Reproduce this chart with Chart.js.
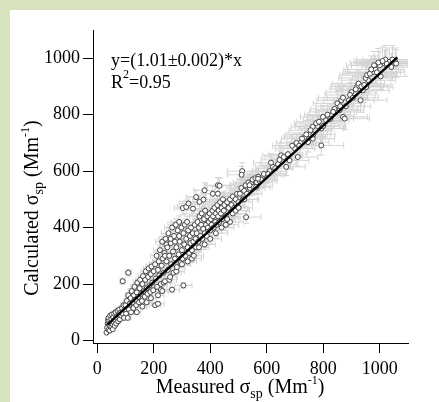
<!DOCTYPE html>
<html>
<head>
<meta charset="utf-8">
<script src="https://cdn.jsdelivr.net/npm/chart.js@4"></script>
<style>
    html, body { margin: 0; padding: 0; background: #d6e3bd; }
    #wrap { position: absolute; left: 10px; top: 10px; width: 429px; height: 392px; background: #fff; }
</style>
</head>
<body>
<div id="wrap"><canvas id="myChart" width="429" height="392"></canvas></div>
<script>
// measured vs calculated scattering coefficient (Mm-1)
const measured = [
    33, 35, 37, 38, 40, 40, 42, 43, 45, 46,
    48, 50, 50, 52, 54, 55, 57, 58, 60, 62,
    63, 65, 67, 68, 70, 72, 74, 76, 78, 80,
    82, 85, 88, 90, 93, 95, 98, 90, 100, 102,
    105, 108, 110, 110, 112, 115, 118, 120, 122, 125,
    128, 130, 132, 135, 138, 140, 140, 142, 145, 148,
    150, 152, 155, 158, 160, 160, 162, 165, 168, 170,
    172, 175, 175, 178, 180, 182, 185, 188, 190, 190,
    192, 195, 198, 200, 205, 215, 205, 208, 210, 212,
    215, 215, 218, 220, 222, 225, 225, 228, 230, 230,
    232, 235, 235, 238, 240, 240, 242, 245, 245, 248,
    250, 252, 255, 255, 258, 260, 260, 262, 265, 265,
    268, 270, 272, 275, 275, 278, 280, 280, 282, 285,
    288, 290, 290, 292, 295, 298, 300, 300, 302, 305,
    305, 308, 310, 312, 315, 318, 320, 320, 322, 325,
    328, 330, 332, 335, 335, 338, 340, 342, 345, 348,
    350, 303, 315, 323, 339, 350, 362, 376, 380, 409,
    427, 433, 427, 352, 355, 358, 360, 362, 365, 368,
    370, 372, 375, 378, 380, 382, 385, 388, 390, 392,
    395, 398, 400, 402, 405, 408, 410, 412, 415, 418,
    420, 422, 425, 428, 430, 432, 435, 438, 440, 442,
    445, 448, 450, 455, 460, 465, 470, 475, 480, 485,
    490, 495, 500, 505, 510, 515, 520, 525, 530, 535,
    540, 545, 550, 555, 560, 565, 570, 575, 580, 513,
    511, 527, 539, 563, 569, 598, 622, 651, 669, 681,
    710, 734, 746, 763, 763, 793, 793, 799, 828, 858,
    864, 870, 876, 891, 932, 940, 952, 960, 976, 1003,
    1017, 1041, 1055, 1034, 1058, 590, 610, 640, 700, 720,
    750, 780, 810, 840, 900, 920, 985, 1000, 1020, 950,
    605, 615, 630, 645, 660, 675, 690, 705, 715, 725,
    740, 755, 765, 775, 785, 800, 815, 825, 835, 850,
    860, 870, 880, 895, 905, 915, 925, 935, 945, 955,
    965, 970, 980, 990, 995, 1010, 1025, 1045, 455, 470,
    480, 400, 420, 440, 460, 490, 380, 360, 500, 520
];
const calculated = [
    28, 45, 60, 72, 38, 80, 55, 68, 35, 88,
    62, 48, 75, 92, 58, 40, 82, 66, 95, 52,
    72, 100, 60, 85, 78, 105, 68, 90, 110, 75,
    98, 88, 115, 95, 125, 80, 108, 210, 125, 95,
    140, 80, 160, 240, 110, 130, 150, 100, 175, 135,
    115, 160, 190, 145, 125, 170, 100, 205, 155, 135,
    185, 215, 165, 140, 200, 120, 228, 175, 155, 215,
    245, 185, 135, 165, 225, 255, 195, 172, 235, 150,
    262, 205, 178, 245, 125, 130, 270, 220, 300, 190,
    250, 160, 280, 230, 320, 200, 180, 265, 350, 175,
    290, 240, 205, 310, 210, 300, 360, 280, 340, 330,
    250, 380, 300, 215, 225, 345, 360, 270, 400, 180,
    315, 240, 370, 290, 350, 410, 330, 245, 260, 390,
    305, 420, 370, 350, 275, 400, 320, 270, 290, 380,
    195, 340, 410, 300, 360, 420, 330, 280, 390, 310,
    370, 345, 400, 320, 290, 380, 350, 300, 410, 360,
    330, 469, 473, 485, 467, 508, 491, 499, 532, 520,
    550, 548, 520, 380, 420, 350, 400, 440, 370, 410,
    450, 360, 395, 430, 380, 460, 410, 370, 440, 400,
    420, 450, 390, 430, 410, 460, 440, 400, 470, 420,
    450, 410, 480, 440, 460, 420, 490, 450, 470, 430,
    500, 460, 480, 440, 490, 470, 500, 480, 510, 470,
    500, 520, 490, 520, 540, 500, 530, 550, 520, 560,
    540, 555, 570, 545, 575, 560, 580, 565, 570, 600,
    587, 437, 550, 544, 573, 585, 615, 656, 615, 638,
    650, 721, 703, 715, 757, 691, 751, 792, 798, 816,
    851, 792, 786, 851, 851, 886, 898, 922, 951, 936,
    981, 969, 987, 987, 981, 590, 600, 625, 680, 700,
    730, 760, 780, 820, 880, 900, 960, 975, 995, 930,
    590, 630, 610, 640, 650, 660, 690, 700, 690, 715,
    730, 745, 730, 770, 775, 760, 800, 785, 810, 840,
    830, 860, 830, 870, 860, 890, 910, 900, 905, 940,
    945, 960, 975, 950, 985, 990, 980, 995, 410, 420,
    450, 360, 380, 400, 430, 460, 340, 330, 470, 500
];
// relative uncertainty used for the grey error bars
const measuredUnc = 0.1;
const calculatedUnc = 0.05;

// fitted line as drawn
const fitX = [35, 1062];
const fitY = [55, 1003];

const xTicks = [0, 200, 400, 600, 800, 1000];
const yTicks = [0, 200, 400, 600, 800, 1000];

const serif = '"Liberation Serif", "Times New Roman", serif';

const errorBars = {
    id: 'errorBars',
    beforeDatasetsDraw(chart) {
        const { ctx, chartArea, scales: { x, y } } = chart;
        ctx.save();
        ctx.beginPath();
        ctx.rect(chartArea.left, chartArea.top, chartArea.right - chartArea.left, chartArea.bottom - chartArea.top);
        ctx.clip();
        ctx.strokeStyle = '#d4d4d4';
        ctx.lineWidth = 1;
        const cap = 3;
        for (let i = 0; i < measured.length; i++) {
            const px = x.getPixelForValue(measured[i]);
            const py = y.getPixelForValue(calculated[i]);
            const xl = x.getPixelForValue(measured[i] * (1 - measuredUnc));
            const xr = x.getPixelForValue(measured[i] * (1 + measuredUnc));
            const yt = y.getPixelForValue(calculated[i] * (1 + calculatedUnc));
            const yb = y.getPixelForValue(calculated[i] * (1 - calculatedUnc));
            ctx.beginPath();
            ctx.moveTo(xl, py); ctx.lineTo(xr, py);
            ctx.moveTo(xl, py - cap); ctx.lineTo(xl, py + cap);
            ctx.moveTo(xr, py - cap); ctx.lineTo(xr, py + cap);
            ctx.moveTo(px, yt); ctx.lineTo(px, yb);
            ctx.moveTo(px - cap, yt); ctx.lineTo(px + cap, yt);
            ctx.moveTo(px - cap, yb); ctx.lineTo(px + cap, yb);
            ctx.stroke();
        }
        ctx.restore();
    }
};

// text made of pieces so sub/superscripts can be drawn
function drawParts(ctx, parts, cx, baseline) {
    let total = 0;
    parts.forEach(p => {
        ctx.font = p.size + 'px ' + serif;
        p.w = ctx.measureText(p.t).width;
        total += p.w;
    });
    let xPos = cx - total / 2;
    parts.forEach(p => {
        ctx.font = p.size + 'px ' + serif;
        ctx.fillText(p.t, xPos, baseline + (p.dy || 0));
        xPos += p.w;
    });
}

const labels = {
    id: 'labels',
    afterDraw(chart) {
        const { ctx } = chart;
        ctx.save();
        ctx.fillStyle = '#000';
        ctx.textAlign = 'left';
        ctx.textBaseline = 'alphabetic';

        // x title
        drawParts(ctx, [
            { t: 'Measured σ', size: 20 },
            { t: 'sp', size: 14, dy: 5 },
            { t: ' (Mm', size: 20 },
            { t: '-1', size: 12, dy: -9 },
            { t: ')', size: 20 }
        ], 230, 383);

        // y title
        ctx.save();
        ctx.translate(28, 198);
        ctx.rotate(-Math.PI / 2);
        drawParts(ctx, [
            { t: 'Calculated σ', size: 20 },
            { t: 'sp', size: 14, dy: 5 },
            { t: ' (Mm', size: 20 },
            { t: '-1', size: 12, dy: -9 },
            { t: ')', size: 20 }
        ], 0, 0);
        ctx.restore();

        // fit annotation
        ctx.font = '18px ' + serif;
        ctx.fillText('y=(1.01±0.002)*x', 101, 56);
        ctx.fillText('R', 101, 78);
        const rw = ctx.measureText('R').width;
        ctx.font = '12px ' + serif;
        ctx.fillText('2', 101 + rw, 68);
        const tw = ctx.measureText('2').width;
        ctx.font = '18px ' + serif;
        ctx.fillText('=0.95', 101 + rw + tw, 78);
        ctx.restore();
    }
};

const ctx = document.getElementById('myChart').getContext('2d');
// eslint-disable-next-line no-undef
new Chart(ctx, {
    data: {
        datasets: [{
            type: 'line',
            data: fitX.map((v, i) => ({ x: v, y: fitY[i] })),
            borderColor: '#000',
            borderWidth: 2.5,
            pointRadius: 0,
            order: 0
        }, {
            type: 'scatter',
            data: measured.map((v, i) => ({ x: v, y: calculated[i] })),
            pointRadius: 2.5,
            pointBorderWidth: 1,
            borderColor: '#444',
            backgroundColor: '#fff',
            order: 1
        }]
    },
    options: {
        responsive: false,
        animation: false,
        devicePixelRatio: 1,
        layout: { padding: { top: 20, right: 31, left: 0, bottom: 0 } },
        plugins: { legend: { display: false }, tooltip: { enabled: false } },
        scales: {
            x: {
                type: 'linear',
                min: -15,
                max: 1100,
                afterBuildTicks: (scale) => { scale.ticks = xTicks.map(v => ({ value: v })); },
                afterFit: (scale) => { scale.height = 59; },
                ticks: { color: '#000', font: { family: serif, size: 18 }, padding: 5, maxRotation: 0, callback: (v) => String(v) },
                grid: { display: true, drawOnChartArea: false, drawTicks: true, tickLength: 10, color: '#000' },
                border: { display: true, color: '#000', width: 1 }
            },
            y: {
                type: 'linear',
                min: -9,
                max: 1100,
                afterBuildTicks: (scale) => { scale.ticks = yTicks.map(v => ({ value: v })); },
                afterFit: (scale) => { scale.width = 83; },
                ticks: { color: '#000', font: { family: serif, size: 18 }, padding: 3, callback: (v) => String(v) },
                grid: { display: true, drawOnChartArea: false, drawTicks: true, tickLength: 10, color: '#000' },
                border: { display: true, color: '#000', width: 1 }
            }
        }
    },
    plugins: [errorBars, labels]
});
</script>
</body>
</html>
